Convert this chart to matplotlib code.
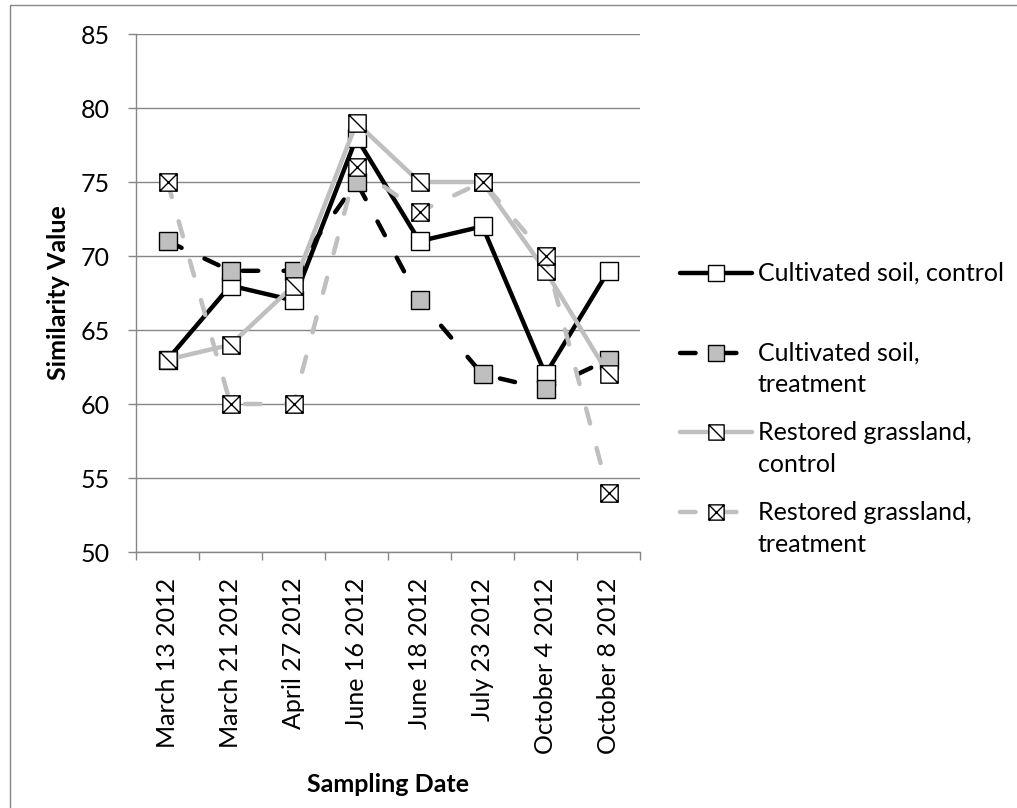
import matplotlib
matplotlib.use("Agg")
import matplotlib.pyplot as plt
from matplotlib.path import Path

plt.rcParams['font.family'] = ['Lato', 'DejaVu Sans']

# ---- data ----
dates = ['March 13 2012', 'March 21 2012', 'April 27 2012', 'June 16 2012',
         'June 18 2012', 'July 23 2012', 'October 4 2012', 'October 8 2012']
cultivated_control = [63, 68, 67, 78, 71, 72, 62, 69]
cultivated_treatment = [71, 69, 69, 75, 67, 62, 61, 63]
restored_control = [63, 64, 68, 79, 75, 75, 69, 62]
restored_treatment = [75, 60, 60, 76, 73, 75, 70, 54]
series_names = ['Cultivated soil, control', 'Cultivated soil,\ntreatment',
                'Restored grassland,\ncontrol', 'Restored grassland,\ntreatment']
y_ticks = [50, 55, 60, 65, 70, 75, 80, 85]

# ---- marker shapes ----
M, L, C = Path.MOVETO, Path.LINETO, Path.CLOSEPOLY
square = [(-1, -1), (1, -1), (1, 1), (-1, 1), (-1, -1)]
sq_codes = [M, L, L, L, C]
diag_marker = Path(square + [(-1, 1), (1, -1)], sq_codes + [M, L])
cross_marker = Path(square + [(-1, 1), (1, -1), (-1, -1), (1, 1)],
                    sq_codes + [M, L, M, L])

BLACK = '#000000'
LGRAY = '#BFBFBF'
GRID = '#868686'
DASH = (0, (3.5, 5.7))
FS = 18

styles = [
    dict(color=BLACK, ls='-', marker='s', mfc='white'),
    dict(color=BLACK, ls=DASH, marker='s', mfc=LGRAY),
    dict(color=LGRAY, ls='-', marker=diag_marker, mfc='white'),
    dict(color=LGRAY, ls=DASH, marker=cross_marker, mfc='white'),
]
series = [cultivated_control, cultivated_treatment, restored_control, restored_treatment]

W, H = 1017, 808
fig = plt.figure(figsize=(W / 100, H / 100), dpi=100)
ax = fig.add_axes([136 / W, (H - 552) / H, (640 - 136) / W, (552 - 34) / H])

x = list(range(len(dates)))
for i, (vals, st) in enumerate(zip(series, styles)):
    ax.plot(x, vals, color=st['color'], linestyle=st['ls'], lw=3.2,
            dash_capstyle='round', solid_capstyle='round', solid_joinstyle='round',
            marker=st['marker'], ms=12.5, mfc=st['mfc'], mec='black', mew=1.0,
            zorder=3 + i, clip_on=False)

ax.set_xlim(-0.5, len(dates) - 0.5)
ax.set_ylim(50, 85)
ax.set_yticks(y_ticks)
ax.set_yticklabels([str(v) for v in y_ticks], fontsize=FS)
ax.yaxis.grid(True, color=GRID, lw=1.0)
ax.set_axisbelow(True)

# category boundaries carry the tick marks, labels sit at the centres
ax.set_xticks([i - 0.5 for i in range(len(dates) + 1)])
ax.set_xticklabels([])
ax.set_xticks(x, minor=True)
ax.set_xticklabels(dates, minor=True, rotation=90, fontsize=FS)
ax.tick_params(axis='x', which='major', length=6, width=1.0, color=GRID, direction='out')
ax.tick_params(axis='x', which='minor', length=0, pad=18.5)
ax.tick_params(axis='y', length=6, width=1.0, color=GRID, direction='out', pad=13)

for s in ['top', 'right']:
    ax.spines[s].set_visible(False)
for s in ['left', 'bottom']:
    ax.spines[s].set_color(GRID)
    ax.spines[s].set_linewidth(1.0)

ax.set_ylabel('Similarity Value', fontsize=FS, fontweight='bold', va='center', ha='center')
ax.yaxis.set_label_coords((58 - 136) / 504, 0.5)
ax.set_xlabel('Sampling Date', fontsize=FS, fontweight='bold', va='center', ha='center')
ax.xaxis.set_label_coords(0.5, (552 - 785) / 518)

# ---- overlay in pixel units: chart frame and legend ----
lax = fig.add_axes([0, 0, 1, 1], zorder=-1)
lax.set_xlim(0, W)
lax.set_ylim(H, 0)
lax.axis('off')
lax.plot([10, 10, W + 5], [H + 5, 5, 5], color=GRID, lw=1.0)

fig_legend = fig.add_axes([0, 0, 1, 1], zorder=10)
fig_legend.set_xlim(0, W)
fig_legend.set_ylim(H, 0)
fig_legend.axis('off')
entry_y = [273, 353, 432, 512]
for yy, name, st in zip(entry_y, series_names, styles):
    fig_legend.plot([680, 716, 752], [yy, yy, yy], color=st['color'], linestyle=st['ls'],
                    lw=3.2, dash_capstyle='round', solid_capstyle='round',
                    marker=st['marker'], markevery=[1], ms=11, mfc=st['mfc'],
                    mec='black', mew=1.0)
    for k, line in enumerate(name.split('\n')):
        fig_legend.text(758, yy + k * 32, line, fontsize=FS, ha='left', va='center')

fig.savefig('out.png', dpi=100)
